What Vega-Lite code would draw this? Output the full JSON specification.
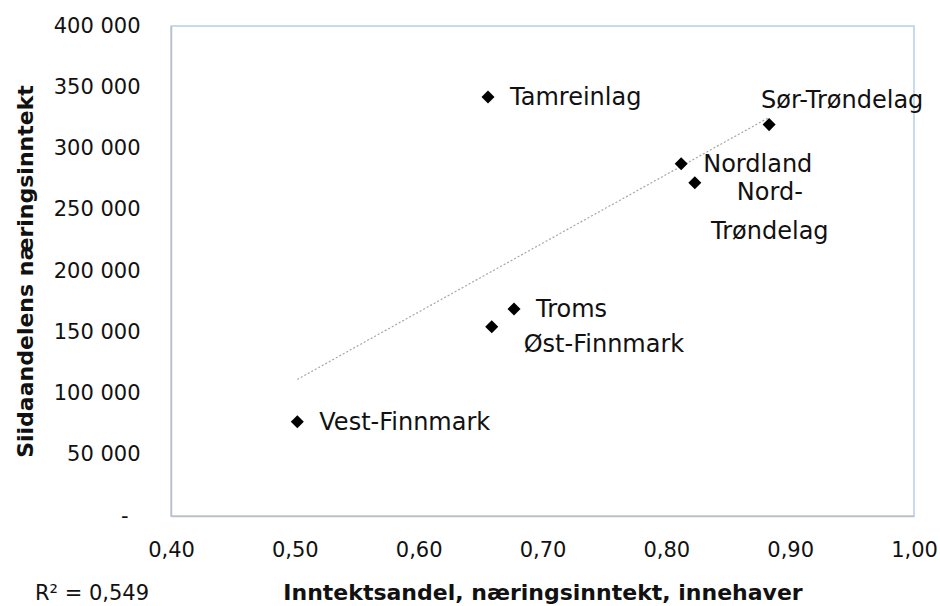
{
  "$schema": "https://vega.github.io/schema/vega-lite/v6.json",
  "autosize": "none",
  "width": 743,
  "height": 490,
  "padding": {"left": 171, "top": 26, "right": 26, "bottom": 90},
  "background": "white",
  "config": {
    "view": {"stroke": "#b4cfea", "strokeWidth": 1.5},
    "font": "DejaVu Sans",
    "text": {"font": "DejaVu Sans", "fontSize": 24, "color": "#111111", "lineBreak": "\n"}
  },
  "data": {
    "values": [
      {"omrade": "Tamreinlag", "etikett": "Tamreinlag", "andel": 0.656, "inntekt": 342000},
      {"omrade": "Sør-Trøndelag", "etikett": "Sør-Trøndelag", "andel": 0.883, "inntekt": 319500},
      {"omrade": "Nordland", "etikett": "Nordland", "andel": 0.812, "inntekt": 287500},
      {"omrade": "Nord-Trøndelag", "etikett": "Nord-\nTrøndelag", "andel": 0.823, "inntekt": 272000},
      {"omrade": "Troms", "etikett": "Troms", "andel": 0.677, "inntekt": 169000},
      {"omrade": "Øst-Finnmark", "etikett": "Øst-Finnmark", "andel": 0.659, "inntekt": 154500},
      {"omrade": "Vest-Finnmark", "etikett": "Vest-Finnmark", "andel": 0.502, "inntekt": 77000}
    ]
  },
  "encoding": {
    "x": {
      "field": "andel", "type": "quantitative",
      "scale": {"domain": [0.4, 1.0], "nice": false, "zero": false},
      "axis": {
        "title": "Inntektsandel, næringsinntekt, innehaver",
        "values": [0.4, 0.5, 0.6, 0.7, 0.8, 0.9, 1.0],
        "labelExpr": "replace(format(datum.value, '.2f'), '.', ',')",
        "grid": false, "ticks": false,
        "domainColor": "#bfbfbf", "domainWidth": 1.5,
        "labelFont": "DejaVu Sans", "labelFontSize": 21, "labelColor": "#111111",
        "labelPadding": 23, "labelFlush": false,
        "titleFont": "DejaVu Sans", "titleFontSize": 22, "titleFontWeight": "bold", "titleColor": "#111111",
        "titlePadding": 22
      }
    },
    "y": {
      "field": "inntekt", "type": "quantitative",
      "scale": {"domain": [0, 400000], "nice": false},
      "axis": {
        "title": "Siidaandelens næringsinntekt",
        "values": [0, 50000, 100000, 150000, 200000, 250000, 300000, 350000, 400000],
        "labelExpr": "datum.value == 0 ? '-' : replace(format(datum.value, ',d'), ',', ' ')",
        "grid": false, "ticks": false,
        "domainColor": "#bfbfbf", "domainWidth": 1.5,
        "labelFont": "DejaVu Sans", "labelFontSize": 21, "labelColor": "#111111",
        "labelPadding": {"condition": {"test": "datum.value == 0", "value": 43}, "value": 31},
        "labelFlush": false,
        "titleFont": "DejaVu Sans", "titleFontSize": 22, "titleFontWeight": "bold", "titleColor": "#111111",
        "titlePadding": 16
      }
    }
  },
  "layer": [
    {
      "transform": [{"regression": "inntekt", "on": "andel"}],
      "mark": {"type": "line", "color": "#a6a6a6", "strokeWidth": 1.2, "strokeDash": [2, 2]},
      "encoding": {}
    },
    {
      "mark": {"type": "point", "shape": "diamond", "filled": true, "color": "#000000", "size": 170, "opacity": 1}
    },
    {
      "transform": [{"filter": {"field": "omrade", "oneOf": ["Tamreinlag", "Troms", "Vest-Finnmark", "Nordland"]}}],
      "mark": {"type": "text", "align": "left", "baseline": "middle", "dx": 22, "dy": 1},
      "encoding": {"text": {"field": "etikett"}}
    },
    {
      "transform": [{"filter": {"field": "omrade", "equal": "Sør-Trøndelag"}}],
      "mark": {"type": "text", "align": "left", "baseline": "middle", "dx": -8, "dy": -24},
      "encoding": {"text": {"field": "etikett"}}
    },
    {
      "transform": [{"filter": {"field": "omrade", "equal": "Øst-Finnmark"}}],
      "mark": {"type": "text", "align": "left", "baseline": "middle", "dx": 32, "dy": 18},
      "encoding": {"text": {"field": "etikett"}}
    },
    {
      "transform": [{"filter": {"field": "omrade", "equal": "Nord-Trøndelag"}}],
      "mark": {"type": "text", "align": "center", "baseline": "top", "dx": 75, "dy": -2, "lineHeight": 39},
      "encoding": {"text": {"field": "etikett"}}
    },
    {
      "transform": [{"filter": {"field": "omrade", "equal": "Vest-Finnmark"}}],
      "mark": {"type": "text", "align": "center", "baseline": "middle", "dx": -79, "dy": 78, "fontSize": 21, "text": "R² = 0,549"},
      "encoding": {"x": {"datum": 0.4}, "y": {"datum": 0}}
    }
  ]
}
